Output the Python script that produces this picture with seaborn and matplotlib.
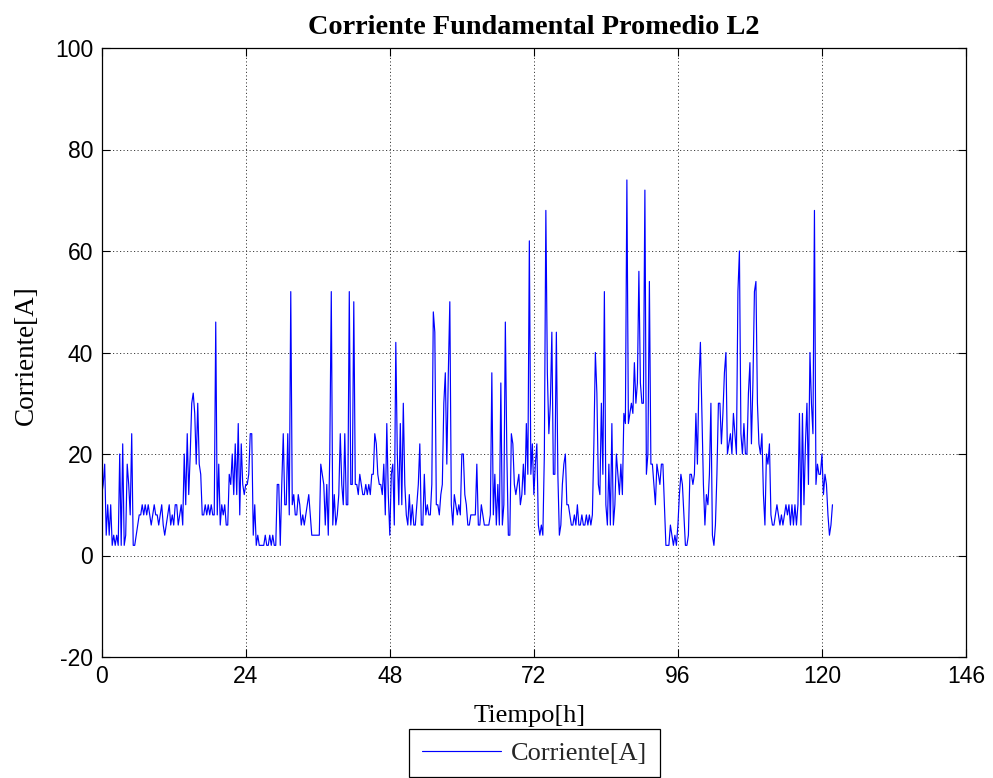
import numpy as np
import pandas as pd
import matplotlib
matplotlib.use("Agg")
import matplotlib.pyplot as plt
import seaborn as sns

# ---------------- data (15-minute samples) ----------------
STEP_H = 0.25

seg_a_start = 0.0
seg_a = [12, 14, 18, 4, 10, 4, 10, 2, 4, 2,
         4, 2, 20, 2, 22, 2, 4, 18, 14, 8,
         24, 2, 2, 4, 6, 8, 8, 10, 8, 10,
         8, 10, 8, 6, 8, 10, 8, 8, 6, 8,
         10, 6, 4, 6, 8, 10, 6, 8, 6, 10,
         10, 6, 8, 10, 6, 20, 10, 24, 12, 20,
         30, 32, 28, 18, 30, 18, 16, 8, 8, 10,
         8, 10, 8, 10, 8, 8, 46, 8, 18, 6,
         10, 8]

seg_b_start = 20.5
seg_b = [10, 6, 6, 16, 14, 20, 12, 22, 12, 26,
         8, 22, 14, 12, 14, 14, 16, 24, 24, 4,
         10, 2, 4, 2, 2, 2, 2, 4, 2, 2,
         4, 2, 4, 2, 2, 14, 14, 2, 14, 24,
         10, 10, 24, 8, 52, 10, 12, 8, 8, 12,
         10, 6, 8, 6, 8, 10, 12, 8, 4, 4,
         4, 4, 4, 4, 18, 16, 14, 6, 14, 4,
         20, 52, 6, 12, 6, 8, 12, 24, 14, 10,
         24, 10]

seg_c_start = 41.0
seg_c = [10, 52, 14, 14, 50, 14, 14, 12, 16, 14,
         12, 12, 14, 12, 14, 12, 16, 16, 24, 22,
         16, 14, 14, 12, 18, 8, 26, 12, 4, 16,
         18, 6, 42, 20, 10, 26, 10, 30, 14, 8,
         6, 12, 6, 10, 6, 6, 10, 14, 22, 6,
         6, 16, 8, 10, 8, 8, 14, 48, 44, 10,
         10, 8, 12, 14, 30, 36, 18, 36, 50, 10,
         6, 12, 10, 8, 10, 8, 20, 20, 12]

seg_d_start = 60.75
seg_d = [10, 6, 6, 8, 8, 8, 8, 18, 6, 6,
         10, 8, 6, 6, 6, 6, 8, 36, 8, 16,
         6, 14, 6, 34, 6, 10, 46, 20, 4, 4,
         24, 22, 14, 12, 14, 16, 10, 12, 18, 12,
         26, 16, 62, 16, 22, 12, 18, 22, 6, 4,
         6, 4, 20, 68, 36, 24, 30, 44, 16, 16,
         44, 16, 4, 6, 14, 18, 20, 10, 10, 8,
         6, 6, 8, 6, 10, 6, 6, 8, 6]

seg_e_start = 80.5
seg_e = [6, 8, 6, 8, 6, 8, 22, 40, 32, 14,
         12, 30, 16, 52, 10, 6, 18, 6, 26, 6,
         10, 20, 16, 12, 18, 12, 28, 26, 74, 26,
         28, 30, 28, 38, 30, 34, 56, 34, 30, 30,
         72, 16, 20, 54, 18, 18, 14, 10, 18, 16,
         14, 18, 18, 10, 2, 2, 2, 6, 4, 2,
         4, 2, 6, 12, 16, 14, 8, 2, 2, 4,
         16, 16, 14, 16, 28, 18, 34, 42, 28, 14]

seg_f_start = 100.5
seg_f = [6, 12, 10, 16, 30, 4, 2, 6, 16, 30,
         30, 22, 28, 36, 40, 20, 22, 24, 20, 28,
         24, 20, 52, 60, 24, 20, 26, 20, 20, 32,
         38, 22, 34, 52, 54, 30, 22, 20, 24, 12,
         6, 20, 18, 22, 8, 6, 6, 8, 10, 8,
         6, 8, 6, 8, 10, 8, 10, 6, 10, 6,
         10, 6, 10, 28, 6, 28, 10, 22, 30, 14,
         40, 30, 24, 68, 14, 18, 16, 16, 20, 12,
         16, 14, 8, 4, 6, 10]

x_ticks = [0, 24, 48, 72, 96, 120, 144]
x_tick_labels = ['0', '24', '48', '72', '96', '120', '146']
y_ticks = [-20, 0, 20, 40, 60, 80, 100]

title_text = 'Corriente Fundamental Promedio L2'
x_label = 'Tiempo[h]'
y_label = 'Corriente[A]'
series_label = 'Corriente[A]'

segments = [(seg_a_start, seg_a), (seg_b_start, seg_b), (seg_c_start, seg_c),
            (seg_d_start, seg_d), (seg_e_start, seg_e), (seg_f_start, seg_f)]
hours, values = [], []
for start, seg in segments:
    hours.extend(start + STEP_H * np.arange(len(seg)))
    values.extend(seg)
df = pd.DataFrame({'Tiempo': hours, 'Corriente': values})

# ---------------- figure ----------------
sns.set_theme(style='white')
plt.rcParams['font.family'] = ['Liberation Sans', 'DejaVu Sans']

W, H = 993, 778
fig = plt.figure(figsize=(W / 100, H / 100), dpi=100)
fig.patch.set_facecolor('white')
ax_l, ax_r, ax_t, ax_b = 101.7, 966.0, 48.0, 657.0
ax = fig.add_axes([ax_l / W, 1 - ax_b / H, (ax_r - ax_l) / W, (ax_b - ax_t) / H])
ax.set_facecolor('white')

sns.lineplot(data=df, x='Tiempo', y='Corriente', ax=ax, color='#0000ff',
             linewidth=0.85, estimator=None, sort=False, label=series_label,
             legend=False)

ax.set_xlim(0, 144)
ax.set_ylim(-20, 100)
ax.set_xticks(x_ticks)
ax.set_xticklabels(x_tick_labels)
ax.set_yticks(y_ticks)
ax.set_yticklabels([str(v) for v in y_ticks])

ax.grid(True, linestyle=(0, (1.2, 2.4)), color='0.25', linewidth=0.7)
for sp in ax.spines.values():
    sp.set_visible(True)
    sp.set_color('black')
    sp.set_linewidth(0.9)

ax.tick_params(axis='both', which='major', direction='in', length=6, width=0.8,
               colors='black', top=True, right=True, bottom=True, left=True,
               labelsize=16.5, pad=6)
for lbl in ax.get_xticklabels() + ax.get_yticklabels():
    lbl.set_fontfamily(['Liberation Sans', 'DejaVu Sans'])

serif = ['Liberation Serif', 'DejaVu Serif']
ax.set_title(title_text, fontfamily=serif, fontweight='bold', fontsize=20.3,
             pad=10, color='black')
ax.set_xlabel(x_label, fontfamily=serif, fontsize=19, color='black')
ax.xaxis.set_label_coords((530 - ax_l) / (ax_r - ax_l), (ax_b - 705) / (ax_b - ax_t))
ax.set_ylabel(y_label, fontfamily=serif, fontsize=19.5, color='black')
ax.yaxis.set_label_coords((39 - ax_l) / (ax_r - ax_l), (ax_b - 355) / (ax_b - ax_t))

handles = ax.get_lines()[:1]
leg = fig.legend(handles, [series_label], loc='upper center',
                 bbox_to_anchor=(534.5 / W, 1 - 729 / H),
                 bbox_transform=fig.transFigure, frameon=True, fancybox=False,
                 edgecolor='black', framealpha=1, borderaxespad=0,
                 handlelength=3.0, handletextpad=0.4, borderpad=0.47,
                 prop={'family': serif, 'size': 19})
leg.get_frame().set_linewidth(0.9)

fig.savefig('out.png', dpi=100, facecolor='white')
